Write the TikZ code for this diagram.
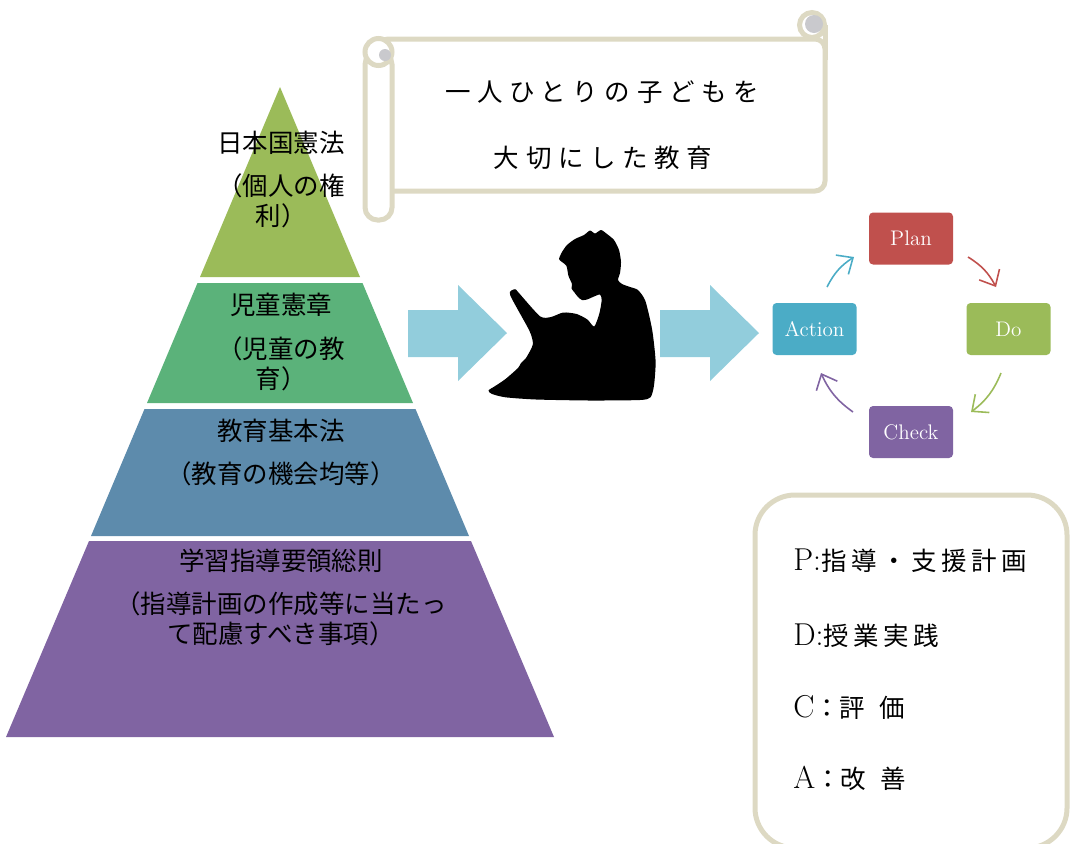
\documentclass[tikz,border=0pt]{standalone}
\usepackage{fontspec}
\newfontfamily\cjk{Noto Sans CJK JP}
\newfontfamily\cjkspaced[LetterSpace=26]{Noto Sans CJK JP}
\newfontfamily\cjklegend[LetterSpace=18]{Noto Sans CJK JP}
\newfontfamily\cjkwider[LetterSpace=56]{Noto Sans CJK JP}
\usetikzlibrary{arrows.meta}

\definecolor{pyrtop}{HTML}{9BBB59}
\definecolor{pyrgreen}{HTML}{5BB27A}
\definecolor{pyrblue}{HTML}{5D8BAC}
\definecolor{pyrpurple}{HTML}{8064A2}
\definecolor{bigarrow}{HTML}{92CDDC}
\definecolor{scrollbeige}{HTML}{DDD9C3}
\definecolor{curlgray}{HTML}{C9C9CD}
\definecolor{planred}{HTML}{C0504D}
\definecolor{dogreen}{HTML}{9BBB59}
\definecolor{checkpurple}{HTML}{8064A2}
\definecolor{actionblue}{HTML}{4BACC6}

\begin{document}
\begin{tikzpicture}[x=0.02cm,y=-0.02cm]
\tikzstyle{layertext} = [font=\cjk\fontsize{14.5}{17}\selectfont, anchor=base, inner sep=0pt]
\tikzstyle{scrollline} = [draw=scrollbeige, line width=0.1cm, fill=white]
\tikzstyle{mottotext} = [font=\cjkspaced\fontsize{14.5}{17}\selectfont, anchor=base, inner sep=0pt]
\tikzstyle{cycbox} = [rectangle, rounded corners=0.8mm, minimum width=1.68cm, minimum height=1.04cm,
text=white, font=\fontsize{12}{14}\selectfont]
\tikzstyle{cycarrow} = [line width=0.9pt, -{Straight Barb[length=2.6mm,width=4.6mm]}, bend left=15]
\tikzstyle{legendtext} = [anchor=base west, inner sep=0pt, font=\fontsize{18}{21}\selectfont]

\useasboundingbox (0,0) rectangle (1070,843);

% pyramid, top to bottom
\fill[pyrtop] (280,87) -- (360,277) -- (200,277) -- cycle;
\fill[pyrgreen] (197.5,283) -- (362.5,283) -- (413,403) -- (147,403) -- cycle;
\fill[pyrblue] (144.5,409) -- (415.5,409) -- (469,536) -- (91,536) -- cycle;
\fill[pyrpurple] (89,541) -- (471,541) -- (554,737) -- (6,737) -- cycle;

\node[layertext] (kenpo) at (281,152) {日本国憲法};
\node[layertext] (kenpo2) at (281,195) {（個人の権};
\node[layertext] (kenpo3) at (281,225) {利）};
\node[layertext] (kensho) at (281,314) {児童憲章};
\node[layertext] (kensho2) at (281,358) {（児童の教};
\node[layertext] (kensho3) at (281,388) {育）};
\node[layertext] (kihon) at (281,440) {教育基本法};
\node[layertext] (kihon2) at (281,483) {（教育の機会均等）};
\node[layertext] (shido) at (281,570) {学習指導要領総則};
\node[layertext] (shido2) at (281,613) {（指導計画の作成等に当たっ};
\node[layertext] (shido3) at (281,643) {て配慮すべき事項）};

% scroll
\draw[scrollline, rounded corners=2mm] (378,39) -- (825,39) -- (825,191) -- (378,191) -- cycle;
\draw[scrollline] (812,25) circle (12.5);
\fill[curlgray] (814,24) circle (9);
\draw[draw=scrollbeige, line width=0.1cm] (825,25) -- (825,60);
\draw[scrollline, rounded corners=2.5mm] (365,52) rectangle (392,220);
\draw[scrollline] (378.5,52) circle (13.5);
\fill[curlgray] (385,55) circle (6);

\node[mottotext] (motto) at (602,101) {一人ひとりの子どもを};
\node[mottotext] (motto2) at (603,167) {大切にした教育};

% block arrows
\foreach \x in {408,660}
  \fill[bigarrow] (\x,310) -- ++(50,0) -- ++(0,-25) -- ++(49,48) -- ++(-49,48) -- ++(0,-24) -- ++(-50,0) -- cycle;

% reading child
\fill[black] plot[smooth cycle, tension=0.4] coordinates {
(559,259) (562,252) (567,245) (575,239) (584,235) (590,230.5) (595,233.5)
(601,230) (607,234) (614,240) (619,250) (621,262) (620,273) (618,280)
(622,284) (630,287) (638,290) (645.4,301) (652.2,330) (655.6,361.4)
(654,385.3) (650.5,397.3) (640,400) (590,400.5) (536.2,399.5) (505.5,397.3)
(491.8,393.9) (488.5,390.4) (495.2,386) (505.5,379) (518,368) (521,363)
(526,358) (532.8,344.4) (529.4,330.7) (510,294.7) (515,289.2) (518.5,292.5)
(540,316.3) (551,317) (563.3,312.5) (576.7,314) (587.4,319.5) (594.2,326.5)
(599.3,313.7) (601.7,300) (600,294.5) (594,296.5) (587,299.5) (582,300)
(578,297) (574.5,292.5) (571.5,288.5) (572,284) (568.5,276) (566.5,266)
(562,262)};

% PDCA cycle
\node[cycbox, fill=planred] (plan) at (911,238.5) {Plan};
\node[cycbox, fill=dogreen] (do) at (1008.5,329) {Do};
\node[cycbox, fill=checkpurple] (check) at (911,432) {Check};
\node[cycbox, fill=actionblue] (action) at (814.5,329) {Action};

\coordinate (plan-out) at (968,257);
\coordinate (do-in) at (996,287);
\coordinate (do-out) at (1001,373);
\coordinate (check-in) at (971,412);
\coordinate (check-out) at (853,412);
\coordinate (action-in) at (821,373);
\coordinate (action-out) at (827,287);
\coordinate (plan-in) at (854,257);

\draw[cycarrow, planred] (plan-out) to (do-in);
\draw[cycarrow, dogreen] (do-out) to (check-in);
\draw[cycarrow, checkpurple] (check-out) to (action-in);
\draw[cycarrow, actionblue] (action-out) to (plan-in);

% legend
\draw[draw=scrollbeige, line width=0.1cm, rounded corners=0.8cm] (755,495) rectangle (1067,848);
\node[legendtext] (legp) at (793,570) {P:{\cjklegend\fontsize{14.5}{17}\selectfont 指導・支援計画}};
\node[legendtext] (legd) at (793,645) {D:{\cjklegend\fontsize{14.5}{17}\selectfont 授業実践}};
\node[legendtext] (legc) at (793,717) {C{\cjk\fontsize{14.5}{17}\selectfont ：}{\cjkwider\fontsize{14.5}{17}\selectfont 評価}};
\node[legendtext] (lega) at (793,788) {A{\cjk\fontsize{14.5}{17}\selectfont ：}{\cjkwider\fontsize{14.5}{17}\selectfont 改善}};

\end{tikzpicture}
\end{document}
